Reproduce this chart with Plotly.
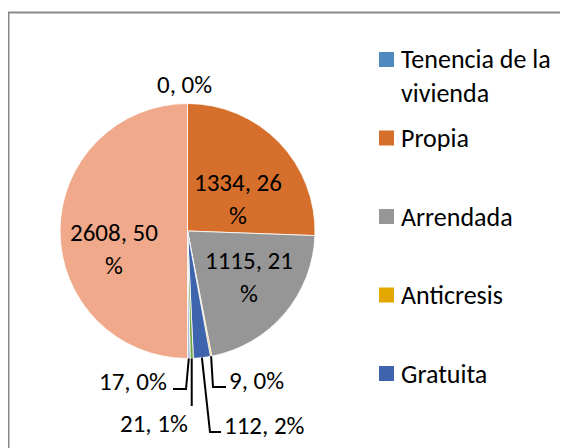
import math
import textwrap
import plotly.graph_objects as go

# ---- data ----
categories = ["Tenencia de la vivienda", "Propia", "Arrendada", "Anticresis",
              "Gratuita", "Otra", "Colectiva", "Total"]
values = [0, 1334, 1115, 9, 112, 21, 17, 2608]
pct_labels = [0, 26, 21, 0, 2, 1, 0, 50]
colors = ["#4F89BF", "#D56F2B", "#969696", "#E2A700",
          "#3E64AE", "#6FA442", "#A9BFDB", "#F0A98A"]

W, H = 568, 448
OFF = 8  # browser body margin
CX, CY, R = 187.5, 231.0, 127.5
FONT = "Calibri, Carlito, Lato, sans-serif"
FS = 25
LFS = 26


def px(x):
    return (x - OFF) / W


def py(y):
    return 1 - (y - OFF) / H


fig = go.Figure()
fig.add_trace(go.Pie(
    labels=categories, values=values, sort=False, direction="clockwise",
    rotation=0, textinfo="none", hoverinfo="label+value+percent",
    marker=dict(colors=colors, line=dict(color="white", width=0.8)),
    domain=dict(x=[px(CX - R), px(CX + R)], y=[py(CY + R), py(CY - R)]),
    showlegend=False,
))

# label layout: (x, y, xanchor, wrap, leader path points after the start)
label_layout = [
    (185, 84, "center", False, None),
    (238, 199, "center", True, None),
    (249, 277, "center", True, None),
    (227, 380, "left", False, [(213, 387), (226, 387)]),
    (222, 425, "left", False, [(210, 432), (221, 432)]),
    (190, 423, "right", False, [None]),
    (169, 381, "right", False, [(186, 389), (173, 389)]),
    (114, 249, "center", True, None),
]

total = sum(values)
cum = 0.0
annotations = []
shapes = []
for v, p, lay in zip(values, pct_labels, label_layout):
    mid = (cum + v / 2) / total * 2 * math.pi
    cum += v
    x, y, anchor, wrap, path = lay
    text = f"{v}, {p}<br>%" if wrap else f"{v}, {p}%"
    annotations.append(dict(
        x=px(x), y=py(y), xref="paper", yref="paper", text=text,
        showarrow=False, xanchor=anchor, yanchor="middle",
        font=dict(family=FONT, size=FS, color="#000000"), align="center"))
    if path:
        sx = CX + R * math.sin(mid)
        sy = CY - R * math.cos(mid)
        if path == [None]:
            pts = [(sx, sy), (sx, 406)]
        else:
            pts = [(sx, sy)] + path
        d = "M " + " L ".join(f"{px(a):.5f},{py(b):.5f}" for a, b in pts)
        shapes.append(dict(type="path", path=d, xref="paper", yref="paper",
                           line=dict(color="#000000", width=2)))

# ---- legend (custom, Excel-like spacing; entries past the chart area are clipped) ----
leg_y0, leg_step = 59.5, 78.5
lh = 32.5
for i, (cat, col) in enumerate(zip(categories, colors)):
    cy = leg_y0 + i * leg_step
    if cy + LFS / 2 > H:
        break
    shapes.append(dict(type="rect", xref="paper", yref="paper",
                       x0=px(379), x1=px(394), y0=py(cy + 7.5), y1=py(cy - 7.5),
                       fillcolor=col, line=dict(width=0)))
    lines = textwrap.wrap(cat, 14)
    annotations.append(dict(
        x=px(399), y=py(cy + (len(lines) - 1) * lh / 2), xref="paper", yref="paper",
        text="<br>".join(lines), showarrow=False, xanchor="left", yanchor="middle",
        align="left", font=dict(family=FONT, size=LFS, color="#000000")))

# chart border (extends beyond the visible area right/bottom)
shapes.append(dict(type="rect", xref="paper", yref="paper",
                   x0=px(8.5), x1=1.05, y0=-0.05, y1=py(12.5),
                   line=dict(color="#888888", width=2), layer="above"))

fig.update_layout(
    width=W, height=H, margin=dict(l=0, r=0, t=0, b=0),
    paper_bgcolor="white", plot_bgcolor="white",
    annotations=annotations, shapes=shapes, showlegend=False,
)
fig.write_html("out.html")
